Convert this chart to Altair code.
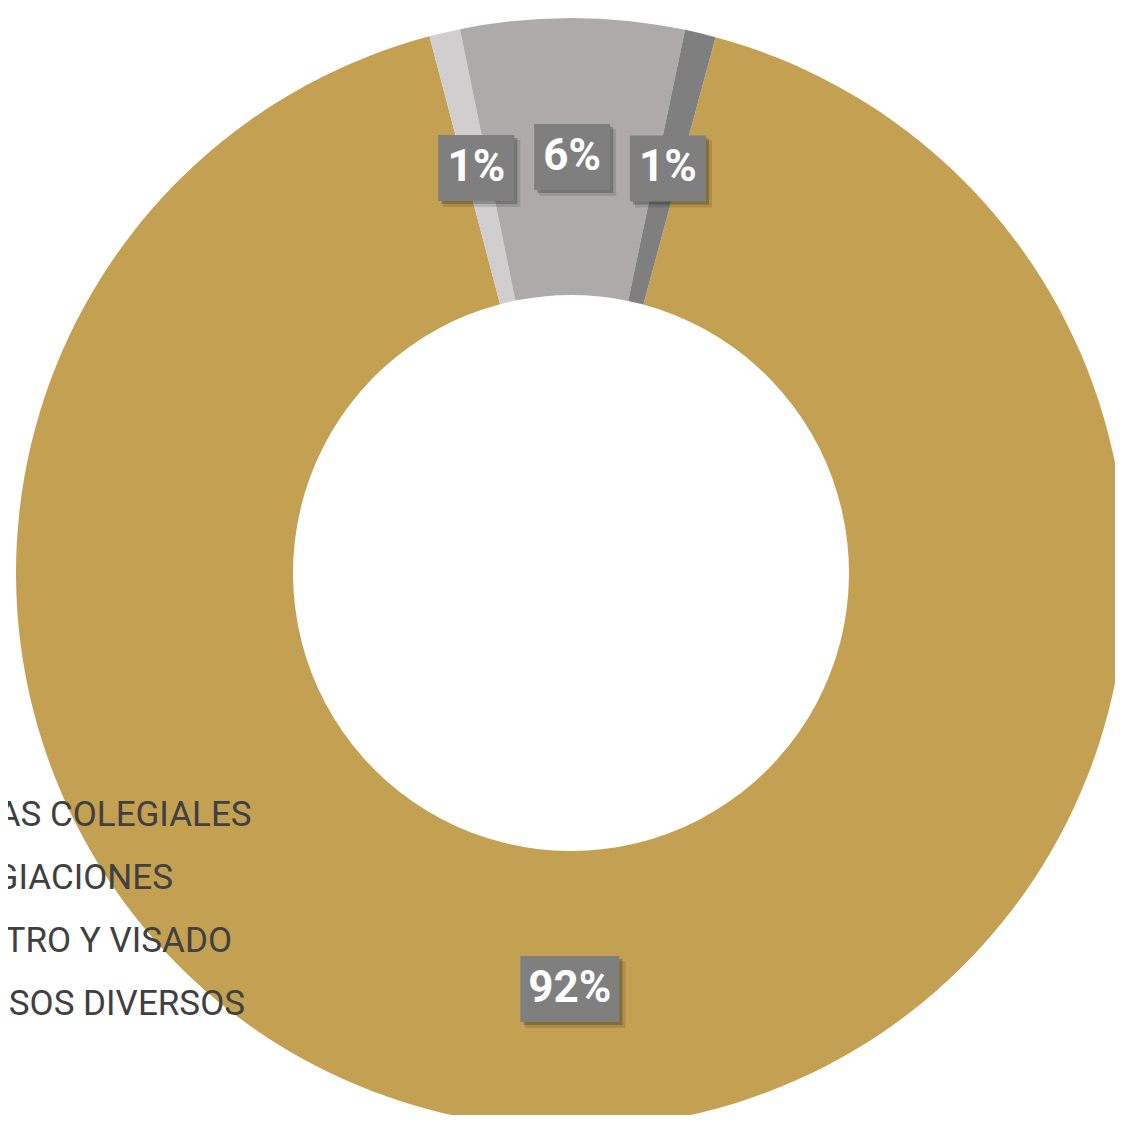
import math
import altair as alt
import pandas as pd

# ---- data ----
categories = ["CUOTAS COLEGIALES", "COLEGIACIONES", "REGISTRO Y VISADO", "INGRESOS DIVERSOS"]
values = [91.7, 0.9, 6.5, 0.9]
labels = ["92%", "1%", "6%", "1%"]
colors = ["#C4A052", "#D0CECE", "#AEAAAA", "#7F7F7F"]

df = pd.DataFrame({
    "categoria": categories,
    "valor": values,
    "etiqueta": labels,
    "orden": list(range(len(categories))),
})

# ---- layout ----
CX, CY = 563, 565
R_OUT, R_IN, R_LAB = 555, 278, 416
START = math.radians(15.1)
BOX_H = 33

base = alt.Chart(df)

arcs = base.mark_arc(outerRadius=R_OUT, innerRadius=R_IN).encode(
    theta=alt.Theta("valor:Q", stack=True,
                    scale=alt.Scale(range=[START, START + 2 * math.pi])),
    color=alt.Color(
        "categoria:N",
        scale=alt.Scale(domain=categories, range=colors),
        sort=categories,
        legend=alt.Legend(
            title=None, orient="none", legendX=-144, legendY=789,
            labelFontSize=35, labelFont="Roboto", labelColor="#404040",
            symbolType="square", symbolSize=100, labelOffset=10,
            rowPadding=27, padding=0, labelLimit=1000, zindex=1,
        ),
    ),
    order=alt.Order("orden:Q"),
    x=alt.value(CX),
    y=alt.value(CY),
)

geo = (
    base.transform_window(cum="sum(valor)", sort=[alt.SortField("orden")], frame=[None, 0])
    .transform_joinaggregate(total="sum(valor)")
    .transform_calculate(ang=f"{START} + 2*PI*(datum.cum - datum.valor/2)/datum.total")
    .transform_calculate(
        px=f"{CX} + {R_LAB}*sin(datum.ang)",
        py=f"{CY} - {R_LAB}*cos(datum.ang)",
        w="30 + 23*length(datum.etiqueta)",
    )
    .transform_calculate(
        bx1="datum.px - datum.w/2", bx2="datum.px + datum.w/2",
        by1=f"datum.py - {BOX_H}", by2=f"datum.py + {BOX_H}",
        sx1="datum.px - datum.w/2 + 3", sx2="datum.px + datum.w/2 + 3",
        sy1=f"datum.py - {BOX_H} + 3", sy2=f"datum.py + {BOX_H} + 3",
        tx1="datum.px - datum.w/2 + 5", tx2="datum.px + datum.w/2 + 6",
        ty1=f"datum.py - {BOX_H} + 5", ty2=f"datum.py + {BOX_H} + 6",
    )
)

shadow_outer = geo.mark_rect(color="#000000", opacity=0.12).encode(
    x=alt.X("tx1:Q", scale=None), x2="tx2:Q",
    y=alt.Y("ty1:Q", scale=None), y2="ty2:Q",
)
shadow = geo.mark_rect(color="#000000", opacity=0.22).encode(
    x=alt.X("sx1:Q", scale=None), x2="sx2:Q",
    y=alt.Y("sy1:Q", scale=None), y2="sy2:Q",
)
boxes = geo.mark_rect(color="#7F7F7F").encode(
    x=alt.X("bx1:Q", scale=None), x2="bx2:Q",
    y=alt.Y("by1:Q", scale=None), y2="by2:Q",
)
texts = geo.mark_text(font="Roboto", fontWeight="bold", fontSize=44,
                      color="white", align="center", baseline="middle").encode(
    x=alt.X("px:Q", scale=None),
    y=alt.Y("py:Q", scale=None),
    text="etiqueta:N",
)

chart = alt.layer(arcs, shadow_outer, shadow, boxes, texts).properties(
    width=1107, height=1107, padding=0,
    autosize=alt.AutoSizeParams(type="none"),
).configure_view(stroke=None).configure_axis(disable=True)

chart.save("out.html", embed_options={"renderer": "svg", "actions": False})
